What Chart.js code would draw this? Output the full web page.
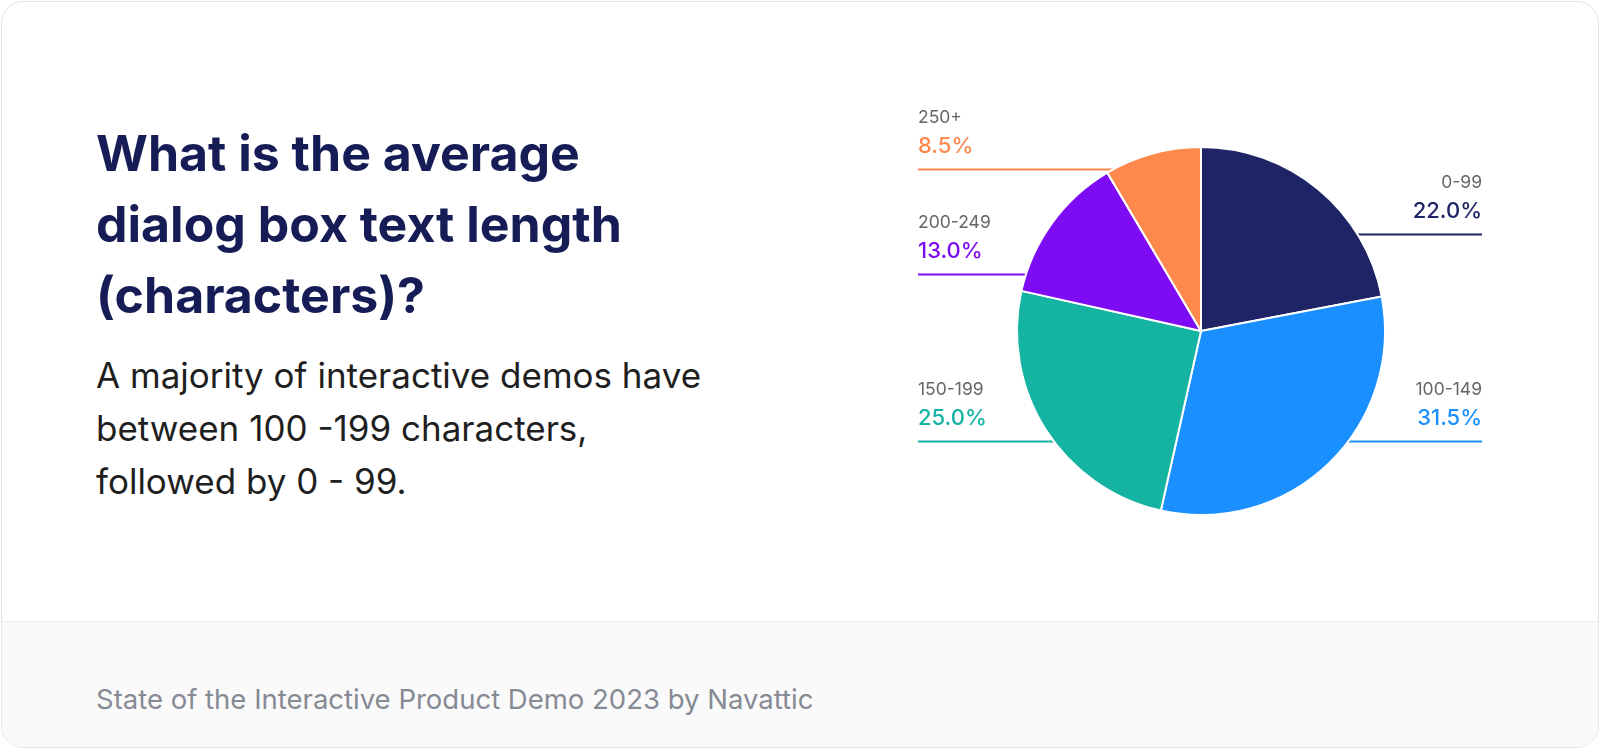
<!DOCTYPE html>
<html>
<head>
<meta charset="utf-8">
<script src="https://cdn.jsdelivr.net/npm/chart.js@4"></script>
<style>
  html, body { margin: 0; padding: 0; background: #fff; }
  body { width: 1600px; height: 749px; position: relative; overflow: hidden; font-family: Inter, "Noto Sans", sans-serif; }
  .card { position: absolute; left: 1px; top: 1px; width: 1596px; height: 745px; border: 1px solid #e6e6e6; border-radius: 22px; overflow: hidden; background: #fff; }
  .footer { position: absolute; left: 0; right: 0; top: 619px; bottom: 0; background: #fafafa; border-top: 1px solid #eeeeee; }
  h1 { position: absolute; left: 96px; top: 118px; margin: 0; font-size: 50px; line-height: 71px; font-weight: 700; color: #161c55; }
  p.sub { position: absolute; left: 96px; top: 349px; margin: 0; font-size: 35px; line-height: 53px; color: #1f1f1f; }
  p.src { position: absolute; left: 96px; top: 683px; margin: 0; font-size: 27.5px; line-height: 33px; color: #858a94; }
  canvas { position: absolute; left: 0; top: 0; }
</style>
</head>
<body>
<div class="card">
  <div class="footer"></div>
</div>
<h1>What is the average<br>dialog box text length<br>(characters)?</h1>
<p class="sub">A majority of interactive demos have<br>between 100 -199 characters,<br>followed by 0 - 99.</p>
<p class="src">State of the Interactive Product Demo 2023 by Navattic</p>
<canvas id="pie" width="1600" height="749"></canvas>
<script>
// data
const categories = ['0-99', '100-149', '150-199', '200-249', '250+'];
const shares = [22.0, 31.5, 25.0, 13.0, 8.5];
const colors = ['#1e2466', '#1a8fff', '#14b3a2', '#7d0cf5', '#ff894d'];

// where each leader line sits, as a fraction of radius below/above centre
const lineOffsets = [-0.527, 0.598, 0.598, -0.31, -0.88];

const leaderLabels = {
  id: 'leaderLabels',
  beforeDatasetsDraw(chart) {
    const ctx = chart.ctx;
    const arcs = chart.getDatasetMeta(0).data;
    ctx.save();
    arcs.forEach((arc, i) => {
      const mid = (arc.startAngle + arc.endAngle) / 2;
      const right = Math.cos(mid) > 0;
      const y = Math.round(arc.y + lineOffsets[i] * arc.outerRadius) + 0.5;
      const xEnd = right ? arc.x + 281 : arc.x - 283;
      ctx.strokeStyle = colors[i];
      ctx.lineWidth = 2;
      ctx.beginPath();
      ctx.moveTo(arc.x, y);
      ctx.lineTo(xEnd, y);
      ctx.stroke();
    });
    ctx.restore();
  },
  afterDatasetsDraw(chart) {
    const ctx = chart.ctx;
    const arcs = chart.getDatasetMeta(0).data;
    ctx.save();
    ctx.textBaseline = 'middle';
    arcs.forEach((arc, i) => {
      const mid = (arc.startAngle + arc.endAngle) / 2;
      const right = Math.cos(mid) > 0;
      const y = Math.round(arc.y + lineOffsets[i] * arc.outerRadius);
      const x = right ? arc.x + 281 : arc.x - 283;
      ctx.textAlign = right ? 'right' : 'left';
      ctx.fillStyle = '#666666';
      ctx.font = '17.5px Inter';
      ctx.fillText(categories[i], x, y - 51);
      ctx.fillStyle = colors[i];
      ctx.font = '500 22px Inter';
      ctx.fillText(shares[i].toFixed(1) + '%', x, y - 23);
    });
    ctx.restore();
  }
};

new Chart(document.getElementById('pie'), {
  type: 'pie',
  data: {
    labels: categories,
    datasets: [{
      data: shares,
      backgroundColor: colors,
      borderColor: '#ffffff',
      borderWidth: 2
    }]
  },
  options: {
    responsive: false,
    animation: false,
    layout: { padding: { left: 1016, right: 214, top: 146, bottom: 233 } },
    plugins: {
      legend: { display: false },
      tooltip: { enabled: false }
    }
  },
  plugins: [leaderLabels]
});
</script>
</body>
</html>
